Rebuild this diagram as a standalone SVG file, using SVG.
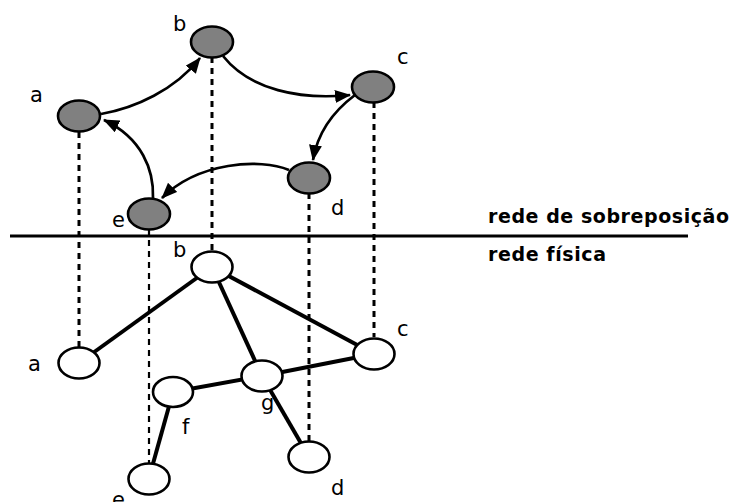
<svg xmlns="http://www.w3.org/2000/svg" width="734" height="502" viewBox="0 0 734 502">
  <style>
    .lbl { font-family: "DejaVu Sans", "Liberation Sans", sans-serif; font-size: 21px; fill: #000; }
    .title { font-family: "DejaVu Sans", "Liberation Sans", sans-serif; font-size: 19px; font-weight: bold; fill: #000; }
    .over { fill: #808080; stroke: #000; stroke-width: 2.6; }
    .phys { fill: #fff; stroke: #000; stroke-width: 2.6; }
    .arc { fill: none; stroke: #000; stroke-width: 2.7; marker-end: url(#head); }
    .link { stroke: #000; stroke-width: 4; }
    .map { stroke: #000; stroke-width: 3; stroke-dasharray: 6 5; fill: none; }
  </style>
  <defs>
    <marker id="head" markerUnits="userSpaceOnUse" markerWidth="17" markerHeight="14" refX="15" refY="6.5" orient="auto">
      <path d="M0,0 L16,6.5 L0,13 z" fill="#000"/>
    </marker>
  </defs>
  <rect width="734" height="502" fill="#fff"/>

  <!-- separator between the two layers -->
  <line x1="10" y1="236" x2="688" y2="236" stroke="#000" stroke-width="3"/>
  <text class="title" x="488" y="223" textLength="241" lengthAdjust="spacing">rede de sobreposição</text>
  <text class="title" x="488" y="261" textLength="118" lengthAdjust="spacing">rede física</text>

  <g id="connectors">
    <!-- vertical mapping between overlay and physical hosts -->
    <line class="map" x1="79" y1="132" x2="79" y2="347"/>
    <line class="map" x1="212" y1="57" x2="212" y2="252"/>
    <line class="map" x1="374" y1="102" x2="374" y2="337"/>
    <line class="map" x1="309" y1="193" x2="309" y2="441"/>
    <line class="map" x1="149" y1="229" x2="149" y2="463" style="stroke-width:2.2"/>

    <!-- physical links -->
    <line class="link" x1="212" y1="267" x2="79" y2="363"/>
    <line class="link" x1="212" y1="267" x2="262" y2="376"/>
    <line class="link" x1="212" y1="267" x2="374" y2="354"/>
    <line class="link" x1="262" y1="376" x2="374" y2="354"/>
    <line class="link" x1="262" y1="376" x2="173" y2="392"/>
    <line class="link" x1="173" y1="392" x2="149" y2="478"/>
    <line class="link" x1="262" y1="376" x2="309" y2="457"/>

    <!-- overlay ring -->
    <path class="arc" d="M101,114 C135,108 175,90 200,58"/>
    <path class="arc" d="M223,56 C250,90 300,100 350,95"/>
    <path class="arc" d="M355,95 C335,110 318,130 313,160"/>
    <path class="arc" d="M289,170 C260,158 198,162 162,198"/>
    <path class="arc" d="M153,198 C154,170 142,138 104,120"/>
  </g>

  <!-- overlay nodes -->
  <g id="ov-a"><ellipse class="over" cx="79" cy="116" rx="21" ry="15.5"/><text class="lbl" x="30" y="102">a</text></g>
  <g id="ov-b"><ellipse class="over" cx="212" cy="42" rx="21" ry="15.5"/><text class="lbl" x="173" y="31">b</text></g>
  <g id="ov-c"><ellipse class="over" cx="373" cy="87" rx="21" ry="15.5"/><text class="lbl" x="397" y="64">c</text></g>
  <g id="ov-d"><ellipse class="over" cx="309" cy="178" rx="21" ry="15.5"/><text class="lbl" x="331" y="215">d</text></g>
  <g id="ov-e"><ellipse class="over" cx="149" cy="214" rx="21" ry="15.5"/><text class="lbl" x="112" y="227">e</text></g>

  <!-- physical nodes -->
  <g id="ph-a"><ellipse class="phys" cx="79" cy="363" rx="20.5" ry="15.5"/><text class="lbl" x="28" y="371">a</text></g>
  <g id="ph-b"><ellipse class="phys" cx="212" cy="267" rx="20.5" ry="15.5"/><text class="lbl" x="173" y="257">b</text></g>
  <g id="ph-c"><ellipse class="phys" cx="374" cy="354" rx="20.5" ry="15.5"/><text class="lbl" x="397" y="336">c</text></g>
  <g id="ph-d"><ellipse class="phys" cx="309" cy="457" rx="20.5" ry="15.5"/><text class="lbl" x="331" y="495">d</text></g>
  <g id="ph-e"><ellipse class="phys" cx="149" cy="479" rx="20.5" ry="15.5"/><text class="lbl" x="112" y="507">e</text></g>
  <g id="ph-f"><ellipse class="phys" cx="173" cy="392" rx="20" ry="15"/><text class="lbl" x="182" y="434">f</text></g>
  <g id="ph-g"><ellipse class="phys" cx="262" cy="376" rx="20.5" ry="15.5"/><text class="lbl" x="261" y="410">g</text></g>
</svg>
